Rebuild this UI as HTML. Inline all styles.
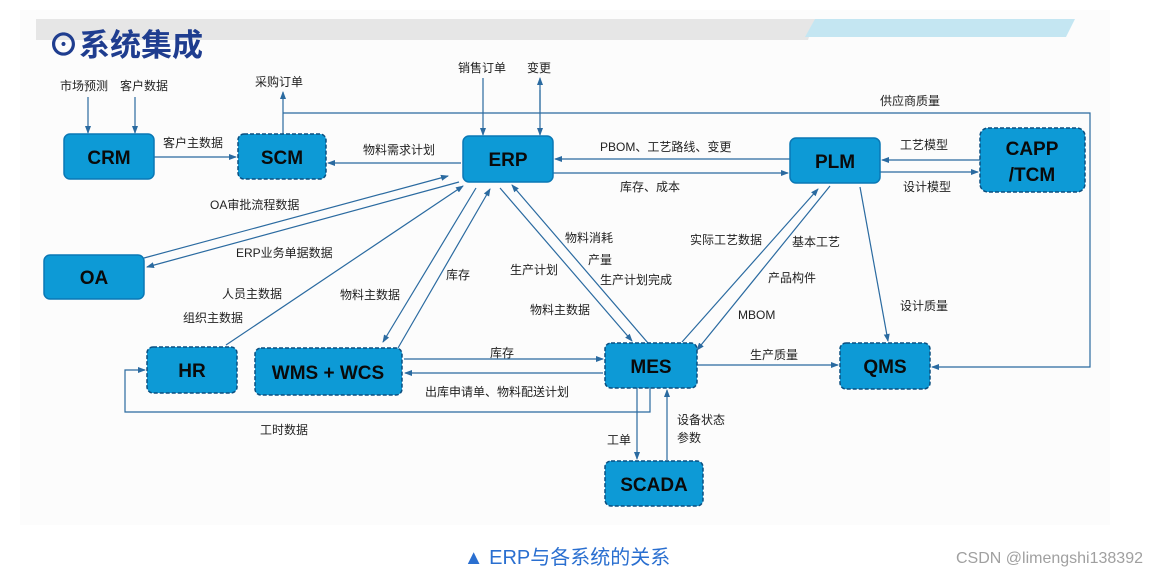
<!DOCTYPE html>
<html><head><meta charset="utf-8"><style>
html,body{margin:0;padding:0;background:#fff;}
svg{display:block;font-family:"Liberation Sans","Noto Sans CJK SC",sans-serif;}
.b{fill:#0d9ad6;stroke:#0a78b5;stroke-width:1.5;}
.d{stroke-dasharray:4 2;stroke:#0b4f80;}
.bt{font-weight:bold;font-size:19px;fill:#0a0a0a;text-anchor:middle;}
.l{stroke:#2a6aa0;stroke-width:1.2;fill:none;}
.t{font-size:12px;fill:#222;}
</style></head><body>
<svg width="1156" height="577" viewBox="0 0 1156 577">
<defs><marker id="a" markerWidth="8" markerHeight="8" refX="7" refY="4" orient="auto" markerUnits="userSpaceOnUse"><path d="M0,1 L8,4 L0,7 z" fill="#2a6aa0"/></marker></defs>
<rect x="20" y="10" width="1090" height="515" fill="#fcfcfc"/>
<polygon points="36,19 815,19 808,40 36,40" fill="#e6e6e6"/>
<polygon points="815,19 1075,19 1066,37 805,37" fill="#c4e6f2"/>
<text x="48" y="56" font-size="31" font-weight="bold" fill="#1f3d8f">⊙系统集成</text>

<text class="t" x="60" y="90">市场预测</text><text class="t" x="120" y="90">客户数据</text>
<line class="l" x1="88" y1="97" x2="88" y2="133" marker-end="url(#a)"/>
<line class="l" x1="135" y1="97" x2="135" y2="133" marker-end="url(#a)"/>
<line class="l" x1="154" y1="157" x2="236" y2="157" marker-end="url(#a)"/>
<text class="t" x="163" y="147">客户主数据</text>
<line class="l" x1="283" y1="134" x2="283" y2="92" marker-end="url(#a)"/>
<text class="t" x="255" y="86">采购订单</text>
<polyline class="l" points="283,113 1090,113 1090,367 932,367" marker-end="url(#a)"/>
<text class="t" x="880" y="105">供应商质量</text>
<text class="t" x="458" y="72">销售订单</text><text class="t" x="527" y="72">变更</text>
<line class="l" x1="483" y1="78" x2="483" y2="135" marker-end="url(#a)"/>
<line class="l" x1="540" y1="90" x2="540" y2="135" marker-end="url(#a)"/>
<line class="l" x1="540" y1="110" x2="540" y2="78" marker-end="url(#a)"/>
<line class="l" x1="461" y1="163" x2="328" y2="163" marker-end="url(#a)"/>
<text class="t" x="363" y="154">物料需求计划</text>
<line class="l" x1="790" y1="159" x2="555" y2="159" marker-end="url(#a)"/>
<text class="t" x="600" y="151">PBOM、工艺路线、变更</text>
<line class="l" x1="553" y1="173" x2="788" y2="173" marker-end="url(#a)"/>
<text class="t" x="620" y="191">库存、成本</text>
<line class="l" x1="980" y1="160" x2="882" y2="160" marker-end="url(#a)"/>
<text class="t" x="900" y="149">工艺模型</text>
<line class="l" x1="880" y1="172" x2="978" y2="172" marker-end="url(#a)"/>
<text class="t" x="903" y="191">设计模型</text>
<line class="l" x1="144" y1="258" x2="448" y2="176" marker-end="url(#a)"/>
<line class="l" x1="459" y1="182" x2="147" y2="267" marker-end="url(#a)"/>
<text class="t" x="210" y="209">OA审批流程数据</text>
<text class="t" x="236" y="257">ERP业务单据数据</text>
<line class="l" x1="226" y1="345" x2="463" y2="186" marker-end="url(#a)"/>
<text class="t" x="222" y="298">人员主数据</text><text class="t" x="183" y="322">组织主数据</text>
<line class="l" x1="476" y1="188" x2="383" y2="342" marker-end="url(#a)"/>
<line class="l" x1="398" y1="348" x2="490" y2="189" marker-end="url(#a)"/>
<text class="t" x="340" y="299">物料主数据</text><text class="t" x="446" y="279">库存</text>
<line class="l" x1="500" y1="188" x2="632" y2="341" marker-end="url(#a)"/>
<line class="l" x1="648" y1="343" x2="512" y2="185" marker-end="url(#a)"/>
<text class="t" x="565" y="242">物料消耗</text><text class="t" x="588" y="264">产量</text>
<text class="t" x="600" y="284">生产计划完成</text><text class="t" x="510" y="274">生产计划</text>
<text class="t" x="530" y="314">物料主数据</text>
<line class="l" x1="830" y1="186" x2="697" y2="350" marker-end="url(#a)"/>
<line class="l" x1="682" y1="342" x2="818" y2="189" marker-end="url(#a)"/>
<text class="t" x="690" y="244">实际工艺数据</text><text class="t" x="792" y="246">基本工艺</text>
<text class="t" x="768" y="282">产品构件</text><text class="t" x="738" y="319">MBOM</text>
<line class="l" x1="860" y1="187" x2="888" y2="341" marker-end="url(#a)"/>
<text class="t" x="900" y="310">设计质量</text>
<line class="l" x1="404" y1="359" x2="603" y2="359" marker-end="url(#a)"/>
<text class="t" x="490" y="357">库存</text>
<line class="l" x1="603" y1="373" x2="405" y2="373" marker-end="url(#a)"/>
<text class="t" x="425" y="396">出库申请单、物料配送计划</text>
<line class="l" x1="697" y1="365" x2="838" y2="365" marker-end="url(#a)"/>
<text class="t" x="750" y="359">生产质量</text>
<polyline class="l" points="650,388 650,412 125,412 125,370 145,370" marker-end="url(#a)"/>
<text class="t" x="260" y="434">工时数据</text>
<line class="l" x1="637" y1="388" x2="637" y2="459" marker-end="url(#a)"/>
<text class="t" x="607" y="444">工单</text>
<line class="l" x1="667" y1="460" x2="667" y2="390" marker-end="url(#a)"/>
<text class="t" x="677" y="424">设备状态</text><text class="t" x="677" y="442">参数</text>

<rect class="b" x="64" y="134" width="90" height="45" rx="6"/><text class="bt" x="109" y="164">CRM</text>
<rect class="b d" x="238" y="134" width="88" height="45" rx="6"/><text class="bt" x="282" y="164">SCM</text>
<rect class="b" x="463" y="136" width="90" height="46" rx="6"/><text class="bt" x="508" y="166">ERP</text>
<rect class="b" x="790" y="138" width="90" height="45" rx="6"/><text class="bt" x="835" y="168">PLM</text>
<rect class="b d" x="980" y="128" width="105" height="64" rx="8"/><text class="bt" x="1032" y="155">CAPP</text><text class="bt" x="1032" y="181">/TCM</text>
<rect class="b" x="44" y="255" width="100" height="44" rx="6"/><text class="bt" x="94" y="284">OA</text>
<rect class="b d" x="147" y="347" width="90" height="46" rx="6"/><text class="bt" x="192" y="377">HR</text>
<rect class="b d" x="255" y="348" width="147" height="47" rx="6"/><text class="bt" x="328" y="379">WMS + WCS</text>
<rect class="b d" x="605" y="343" width="92" height="45" rx="6"/><text class="bt" x="651" y="373">MES</text>
<rect class="b d" x="840" y="343" width="90" height="46" rx="6"/><text class="bt" x="885" y="373">QMS</text>
<rect class="b d" x="605" y="461" width="98" height="45" rx="6"/><text class="bt" x="654" y="491">SCADA</text>

<text x="567" y="564" font-size="20" fill="#2a6fd0" text-anchor="middle">▲ ERP与各系统的关系</text>
<text x="1143" y="563" font-size="16" fill="#a0a0a0" text-anchor="end">CSDN @limengshi138392</text>
</svg>
</body></html>
